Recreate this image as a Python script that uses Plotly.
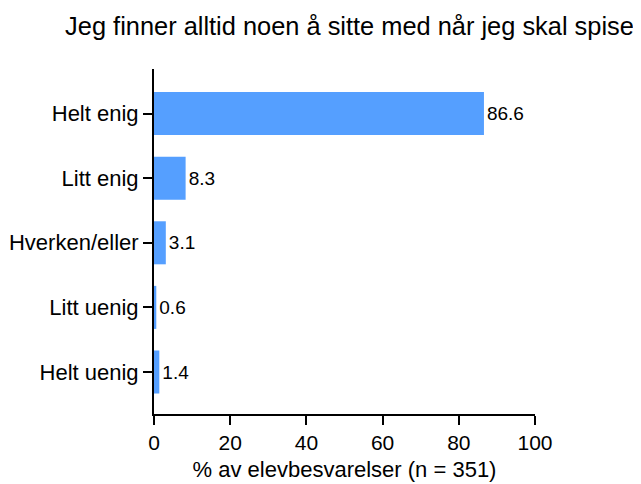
import plotly.graph_objects as go

categories = ["Helt enig", "Litt enig", "Hverken/eller", "Litt uenig", "Helt uenig"]
values = [86.6, 8.3, 3.1, 0.6, 1.4]
x_ticks = [0, 20, 40, 60, 80, 100]
title_text = "Jeg finner alltid noen å sitte med når jeg skal spise"
x_title = "% av elevbesvarelser (n = 351)"

FONT = "Liberation Sans, Arial, sans-serif"
W, H = 641, 484

fig = go.Figure(
    go.Bar(
        x=values,
        y=categories,
        orientation="h",
        width=0.666,
        marker=dict(color="#559FFF", line=dict(width=0)),
        text=[f"{v:.1f}" for v in values],
        textposition="outside",
        textfont=dict(family=FONT, size=19, color="black"),
        cliponaxis=False,
        hoverinfo="skip",
    )
)

fig.update_layout(
    width=W,
    height=H,
    margin=dict(l=145.5, r=113.5, t=61, b=78, autoexpand=False),
    paper_bgcolor="white",
    plot_bgcolor="white",
    showlegend=False,
    font=dict(family=FONT, color="black"),
    title=dict(
        text=title_text,
        font=dict(family=FONT, size=25.4, color="black"),
        x=341.5 / W,
        xanchor="center",
        xref="container",
        y=1 - 18 / H,
        yanchor="middle",
        yref="container",
        automargin=False,
    ),
    xaxis=dict(
        range=[0, 100],
        tickvals=x_ticks,
        ticktext=[str(t) for t in x_ticks],
        showgrid=False,
        zeroline=False,
        showline=True,
        linecolor="black",
        linewidth=2,
        ticks="outside",
        ticklen=9,
        tickwidth=2,
        tickcolor="black",
        tickfont=dict(family=FONT, size=21, color="black"),
        title=dict(text=x_title, font=dict(family=FONT, size=22, color="black"), standoff=8),
        automargin=False,
        fixedrange=True,
    ),
    yaxis=dict(
        type="category",
        categoryorder="array",
        categoryarray=categories,
        range=[4.65, -0.69],
        showgrid=False,
        zeroline=False,
        showline=True,
        linecolor="black",
        linewidth=2,
        ticks="outside",
        ticklen=9,
        tickwidth=2,
        tickcolor="black",
        tickfont=dict(family=FONT, size=22, color="black"),
        automargin=False,
        fixedrange=True,
    ),
)

fig.write_html("out.html")
